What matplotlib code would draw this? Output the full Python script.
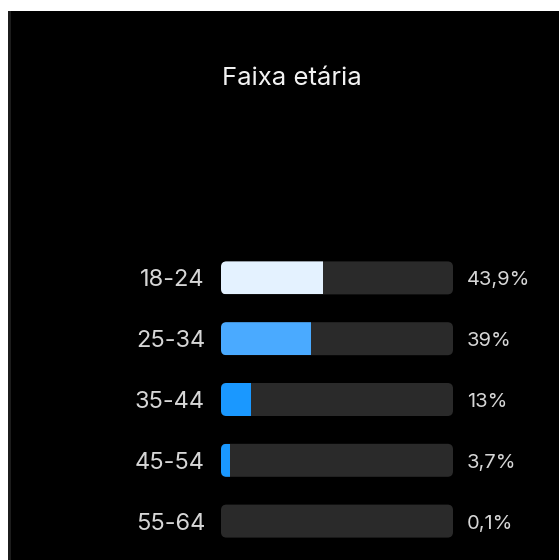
import matplotlib
matplotlib.use("Agg")
import matplotlib.pyplot as plt
from matplotlib.patches import FancyBboxPatch, Rectangle

plt.rcParams['font.family'] = ['Inter', 'DejaVu Sans']

title = "Faixa etária"
age_groups = ["18-24", "25-34", "35-44", "45-54", "55-64"]
shares = [43.9, 39.0, 13.0, 3.7, 0.1]
share_labels = ["43,9%", "39%", "13%", "3,7%", "0,1%"]
fill_colors = ["#e4f2ff", "#4aaaff", "#1a98ff", "#1a98ff", "#1a98ff"]

W, H = 559, 560
fig = plt.figure(figsize=(W / 100, H / 100), dpi=100, facecolor="white")

# dark panel with a thin grey strip along its left edge
bg = fig.add_axes([0, 0, 1, 1], zorder=-10)
bg.set_xlim(0, W)
bg.set_ylim(H, 0)
bg.axis("off")
bg.add_patch(Rectangle((8, 11), W - 8, H - 11, facecolor="#000000", edgecolor="none"))
bg.add_patch(Rectangle((8, 11), 3, H - 11, facecolor="#1c1c1c", edgecolor="none"))
bg.text(292, 85, title, color="#f2f2f2", fontsize=18.5, ha="center", va="baseline")

# bar area
x0, x1 = 221, 453
y_top, y_bot = 247.5, 551.5
ax = fig.add_axes([x0 / W, 1 - y_bot / H, (x1 - x0) / W, (y_bot - y_top) / H], zorder=1)
ax.set_xlim(0, 100)
ax.set_ylim(len(age_groups) - 0.5, -0.5)
ax.axis("off")

px_x = (x1 - x0) / 100.0          # pixels per x unit
px_y = (y_bot - y_top) / len(age_groups)  # pixels per y unit
bar_h = 33 / px_y
radius_px = 5.5
rs = radius_px / px_x
aspect = (radius_px / px_y) / rs

for i, (grp, val, lab, col) in enumerate(zip(age_groups, shares, share_labels, fill_colors)):
    yb = i - bar_h / 2
    track = FancyBboxPatch((0, yb), 100, bar_h,
                           boxstyle=f"round,pad=0,rounding_size={rs}",
                           mutation_aspect=aspect, facecolor="#2a2a2a",
                           edgecolor="none", zorder=1)
    ax.add_patch(track)
    if val >= 0.5:
        fill = FancyBboxPatch((0, yb), 100, bar_h,
                              boxstyle=f"round,pad=0,rounding_size={rs}",
                              mutation_aspect=aspect, facecolor=col,
                              edgecolor="none", zorder=2)
        ax.add_patch(fill)
        clip = Rectangle((0, yb), val, bar_h, transform=ax.transData)
        fill.set_clip_path(clip)
    ax.text(-16 / px_x, i + 8.5 / px_y, grp, color="#d6d6d6", fontsize=17,
            ha="right", va="baseline", clip_on=False)
    ax.text(100 + 14 / px_x, i + 7.5 / px_y, lab, color="#d6d6d6", fontsize=14.5,
            ha="left", va="baseline", clip_on=False)

fig.savefig("out.png", dpi=100, facecolor="white")
